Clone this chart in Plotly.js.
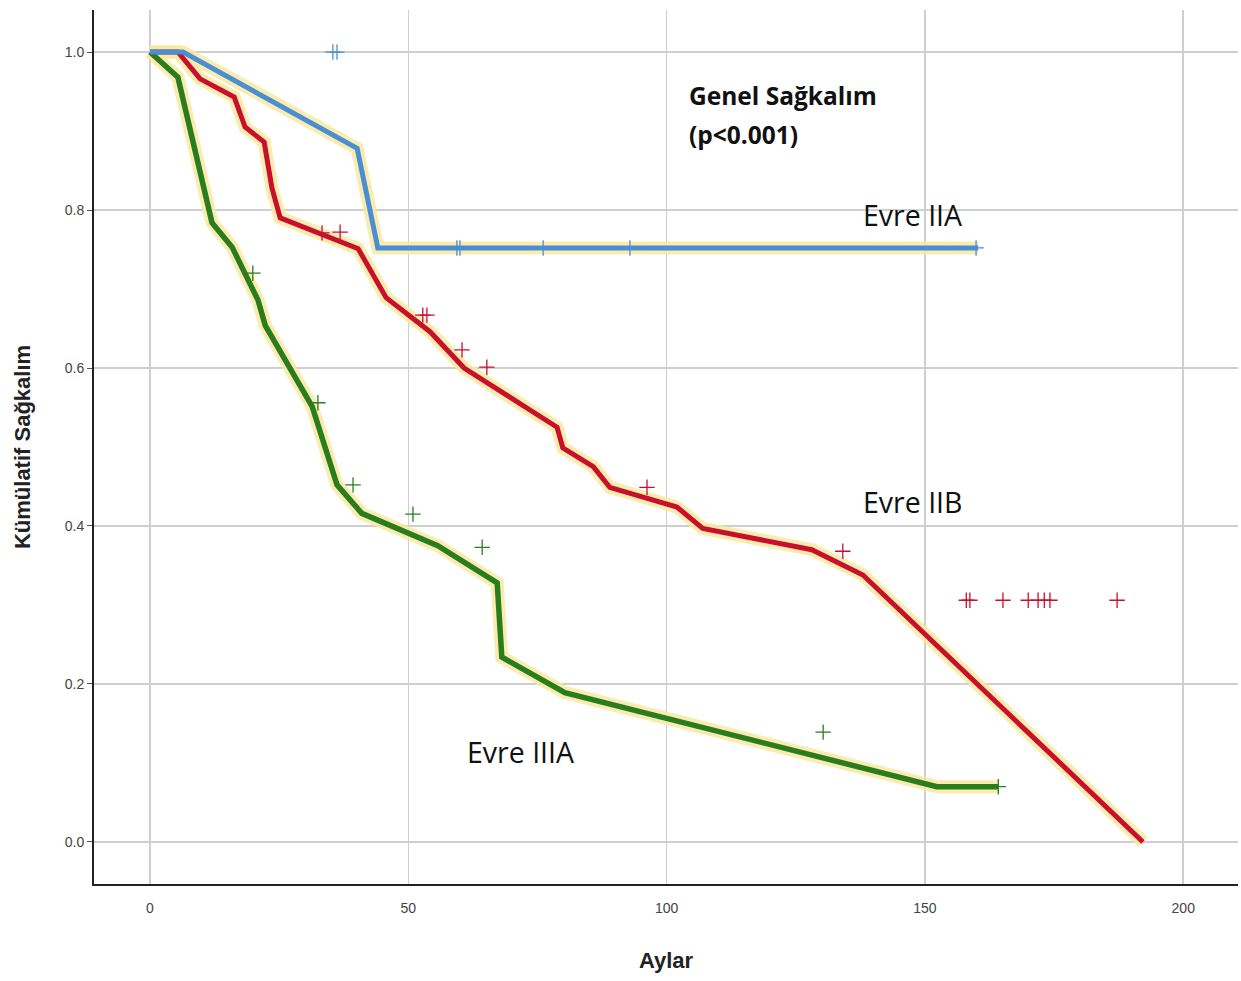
<!DOCTYPE html>
<html>
<head>
<meta charset="utf-8">
<script src="https://cdn.plot.ly/plotly-3.0.1.min.js"></script>
<style>html,body{margin:0;padding:0;background:#fff;}#chart{width:1241px;height:981px;}</style>
</head>
<body>
<div id="chart"></div>
<script>
// Evre IIA (blue)
const iiaMonths = [0, 6.4, 40.1, 44.1, 160.3];
const iiaSurv   = [1.0, 1.0, 0.878, 0.752, 0.752];
const iiaCensMonths = [35.4, 36.2, 59.4, 60.0, 76.1, 92.9, 159.9];
const iiaCensSurv   = [1.0, 1.0, 0.752, 0.752, 0.752, 0.752, 0.752];

// Evre IIB (red)
const iibMonths = [0, 5.4, 9.7, 16.3, 18.4, 22.1, 23.6, 25.2, 40.3, 45.7, 54.2, 60.8, 78.8, 79.9, 85.8, 89.0, 102.0, 107.0, 128.1, 138.0, 192.2];
const iibSurv   = [1.0, 1.0, 0.966, 0.943, 0.905, 0.886, 0.828, 0.790, 0.751, 0.689, 0.646, 0.600, 0.525, 0.499, 0.475, 0.449, 0.424, 0.397, 0.370, 0.338, 0.0];
const iibCensMonths = [33.3, 36.8, 52.8, 53.6, 60.4, 65.2, 96.2, 134.1, 158.0, 158.7, 165.1, 170.0, 171.9, 173.1, 174.2, 187.2];
const iibCensSurv   = [0.771, 0.772, 0.667, 0.667, 0.623, 0.601, 0.449, 0.368, 0.306, 0.306, 0.306, 0.306, 0.306, 0.306, 0.306, 0.306];

// Evre IIIA (green)
const iiiaMonths = [0, 5.4, 12.0, 15.9, 20.9, 22.3, 31.4, 36.2, 41.0, 55.7, 67.2, 68.1, 80.3, 152.3, 164.2];
const iiiaSurv   = [1.0, 0.968, 0.784, 0.753, 0.686, 0.654, 0.551, 0.452, 0.416, 0.375, 0.328, 0.234, 0.189, 0.070, 0.070];
const iiiaCensMonths = [19.9, 32.5, 39.3, 50.9, 64.3, 130.3, 164.2];
const iiiaCensSurv   = [0.720, 0.556, 0.452, 0.415, 0.373, 0.139, 0.070];

const xTicks = [0, 50, 100, 150, 200];
const yTicks = [0.0, 0.2, 0.4, 0.6, 0.8, 1.0];
const yTickLabels = ["0.0", "0.2", "0.4", "0.6", "0.8", "1.0"];

const blue = "#4a8fd6", red = "#c8102e", green = "#2a7d1e", halo = "rgba(249,231,160,0.85)";

function haloTrace(x, y) {
  return {x: x, y: y, mode: "lines", type: "scatter", hoverinfo: "skip",
          line: {color: halo, width: 13, shape: "linear"}, showlegend: false};
}
function lineTrace(x, y, c, w) {
  return {x: x, y: y, mode: "lines", type: "scatter",
          line: {color: c, width: w, shape: "linear"}, showlegend: false};
}
function censTrace(x, y, c) {
  return {x: x, y: y, mode: "markers", type: "scatter",
          marker: {symbol: "cross-thin", size: 11, line: {color: c, width: 1.3}}, showlegend: false};
}

const data = [
  haloTrace(iiiaMonths, iiiaSurv),
  haloTrace(iibMonths, iibSurv),
  haloTrace(iiaMonths, iiaSurv),
  lineTrace(iiiaMonths, iiiaSurv, green, 5.5),
  lineTrace(iibMonths, iibSurv, red, 5),
  lineTrace(iiaMonths, iiaSurv, blue, 5),
  censTrace(iiaCensMonths, iiaCensSurv, blue),
  censTrace(iibCensMonths, iibCensSurv, red),
  censTrace(iiiaCensMonths, iiiaCensSurv, green)
];

const annFont = "Open Sans, Noto Sans, sans-serif";
const layout = {
  width: 1241, height: 981,
  margin: {l: 94, r: 3, t: 10, b: 97},
  paper_bgcolor: "#fff", plot_bgcolor: "#fff",
  xaxis: {
    range: [-10.84, 210.6], tickvals: xTicks, ticktext: xTicks.map(String),
    showgrid: true, gridcolor: "#cfcfcf", gridwidth: 1.5, zeroline: false,
    showline: true, linecolor: "#222", linewidth: 2,
    ticks: "outside", ticklen: 10, tickcolor: "rgba(0,0,0,0)",
    tickfont: {family: "Liberation Sans, Arial, sans-serif", size: 14, color: "#444"},
    title: {text: "<b>Aylar</b>", standoff: 38, font: {family: "Liberation Sans, Arial, sans-serif", size: 22, color: "#222"}}
  },
  yaxis: {
    range: [-0.0532, 1.0532], tickvals: yTicks, ticktext: yTickLabels,
    showgrid: true, gridcolor: "#cfcfcf", gridwidth: 1.5, zeroline: false,
    showline: true, linecolor: "#222", linewidth: 2, ticks: "outside", ticklen: 5, tickcolor: "#555",
    tickfont: {family: "Liberation Sans, Arial, sans-serif", size: 14, color: "#444"},
    title: {text: "<b>Kümülatif Sağkalım</b>", standoff: 28, font: {family: "Liberation Sans, Arial, sans-serif", size: 22, color: "#222"}}
  },
  annotations: [
    {x: 104.0, y: 0.945, xref: "x", yref: "y", xanchor: "left", yanchor: "middle", showarrow: false,
     align: "left", text: "<b>Genel Sağkalım</b>", font: {family: annFont, size: 24.5, color: "#111"}},
    {x: 104.0, y: 0.896, xref: "x", yref: "y", xanchor: "left", yanchor: "middle", showarrow: false,
     align: "left", text: "<b>(p<0.001)</b>", font: {family: annFont, size: 24.5, color: "#111"}},
    {x: 137.6, y: 0.794, xref: "x", yref: "y", xanchor: "left", yanchor: "middle", showarrow: false,
     text: "Evre IIA", font: {family: annFont, size: 28.5, color: "#111"}},
    {x: 137.6, y: 0.431, xref: "x", yref: "y", xanchor: "left", yanchor: "middle", showarrow: false,
     text: "Evre IIB", font: {family: annFont, size: 28.5, color: "#111"}},
    {x: 60.9, y: 0.114, xref: "x", yref: "y", xanchor: "left", yanchor: "middle", showarrow: false,
     text: "Evre IIIA", font: {family: annFont, size: 28.5, color: "#111"}}
  ]
};

Plotly.newPlot("chart", data, layout, {displayModeBar: false, staticPlot: true});
</script>
</body>
</html>
